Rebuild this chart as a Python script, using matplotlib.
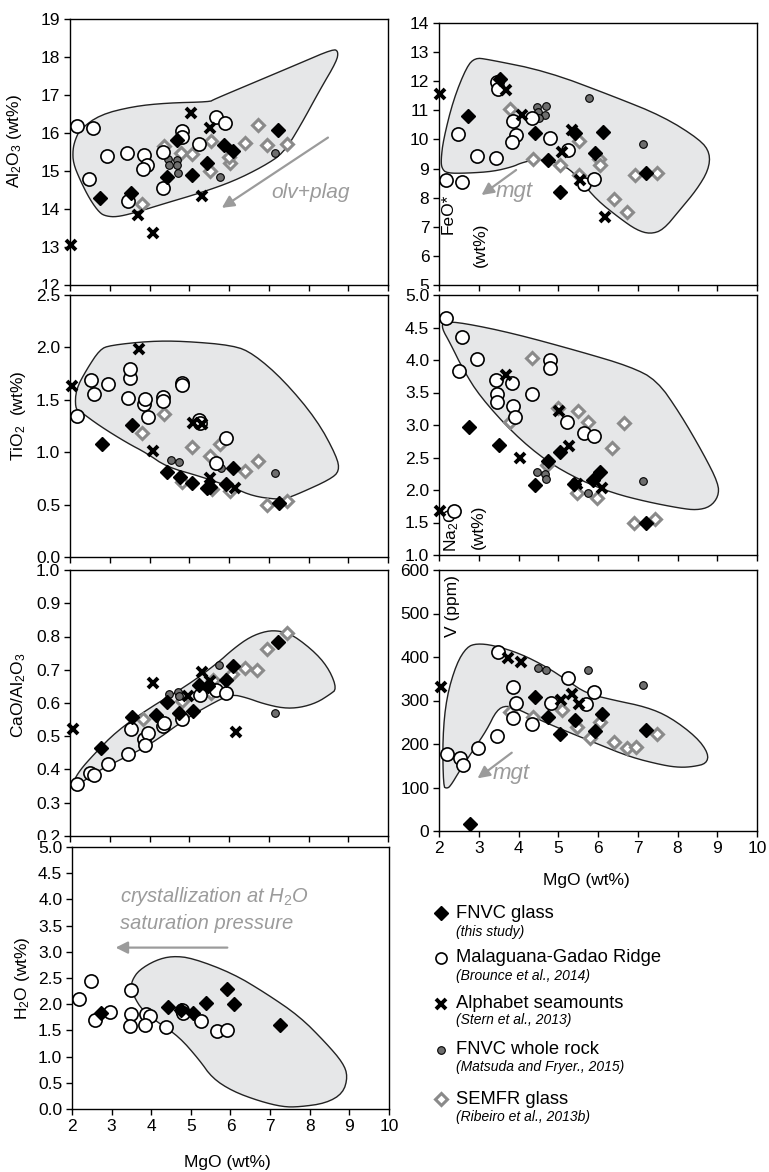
import matplotlib
matplotlib.use('Agg')
import matplotlib.pyplot as plt
from matplotlib.patches import Polygon
from matplotlib.transforms import Bbox, TransformedBbox
import numpy as np

plt.rcParams['font.family'] = 'Liberation Sans'
plt.rcParams['mathtext.fontset'] = 'custom'
plt.rcParams['mathtext.rm'] = 'Liberation Sans'
plt.rcParams['mathtext.it'] = 'Liberation Sans:italic'

# ---- data: (MgO, value) pairs ----
al_env = [(2.07, 15.56), (2.13, 15.82), (2.25, 16.09), (2.75, 16.48), (3.59, 16.70), (4.43, 16.79),
          (5.52, 16.82), (5.61, 16.88), (6.61, 17.32), (7.79, 17.84), (8.62, 18.21), (8.75, 18.15),
          (8.71, 17.89), (8.29, 17.14), (7.79, 16.18), (7.37, 15.47), (6.86, 15.12), (6.11, 14.73),
          (5.27, 14.42), (4.43, 14.16), (3.59, 13.89), (3.17, 13.79), (2.92, 13.81), (2.75, 13.89),
          (2.50, 14.25), (2.25, 14.77), (2.08, 15.21)]
al_fnvc = [(2.75, 14.30), (3.53, 14.42), (4.43, 14.83), (4.70, 15.82), (5.06, 14.89), (5.44, 15.21),
           (5.87, 15.69), (6.11, 15.52), (7.24, 16.07)]
al_mgr = [(2.17, 16.19), (2.59, 16.13), (2.49, 14.79), (2.94, 15.39), (3.44, 15.47), (3.47, 14.20),
          (3.86, 15.43), (3.93, 15.17), (3.84, 15.05), (4.33, 15.49), (4.33, 14.55), (4.81, 16.04),
          (4.83, 15.90), (5.25, 15.72), (5.67, 16.42), (5.91, 16.26)]
al_alpha = [(2.03, 13.04), (3.70, 13.85), (4.08, 13.37), (5.04, 16.53), (5.51, 16.13), (5.31, 14.33)]
al_wr = [(4.47, 15.32), (4.49, 15.17), (4.68, 15.30), (4.70, 15.17), (4.71, 14.95), (5.77, 14.84),
         (7.16, 15.47)]
al_semfr = [(3.80, 14.14), (4.36, 15.65), (4.79, 15.47), (5.06, 15.45), (5.52, 15.00), (5.54, 15.80),
            (6.03, 15.22), (6.00, 15.36), (6.40, 15.75), (6.72, 16.22), (6.95, 15.69), (7.47, 15.72)]

fe_env = [(2.05, 9.30), (2.11, 9.99), (2.36, 11.36), (2.70, 12.51), (2.91, 12.80), (3.20, 12.76),
          (4.71, 12.34), (6.39, 11.48), (7.64, 10.79), (8.57, 9.99), (8.82, 9.53), (8.78, 8.95),
          (8.48, 8.27), (8.06, 7.58), (7.64, 6.89), (7.31, 6.75), (6.97, 6.89), (6.55, 7.29),
          (5.97, 7.92), (5.55, 8.61), (5.21, 9.07), (4.71, 9.30), (4.37, 9.30), (4.04, 9.18),
          (3.87, 9.07), (3.37, 8.90), (2.70, 8.84), (2.19, 8.84), (2.07, 9.01)]
fe_fnvc = [(2.74, 10.82), (3.53, 12.08), (4.41, 10.22), (4.75, 9.28), (5.04, 8.21), (5.42, 10.22),
           (5.92, 9.55), (6.12, 10.25), (7.22, 8.84)]
fe_mgr = [(2.17, 8.61), (2.57, 8.55), (2.49, 10.18), (2.95, 9.44), (3.43, 9.36), (3.47, 11.96),
          (3.49, 11.73), (3.85, 10.62), (3.94, 10.16), (3.84, 9.91), (4.33, 10.73), (4.79, 10.04),
          (5.25, 9.64), (5.65, 8.46), (5.90, 8.63)]
fe_alpha = [(2.03, 11.56), (3.69, 11.71), (4.10, 10.85), (5.09, 9.58), (5.34, 10.33), (5.55, 8.61),
            (6.18, 7.35)]
fe_wr = [(4.46, 11.11), (4.68, 11.16), (4.48, 10.93), (4.67, 10.85), (4.51, 10.73), (5.77, 11.42),
         (7.14, 9.85)]
fe_semfr = [(3.79, 11.04), (4.37, 9.32), (5.04, 9.13), (5.51, 9.93), (5.53, 8.78), (6.03, 9.32),
            (6.05, 9.13), (6.39, 7.95), (6.72, 7.50), (6.93, 8.78), (7.48, 8.84)]

ti_env = [(2.13, 1.42), (2.15, 1.60), (2.42, 1.79), (2.75, 1.98), (3.01, 2.02), (4.01, 2.06),
          (4.85, 2.06), (6.11, 2.02), (6.61, 1.94), (7.37, 1.69), (8.21, 1.31), (8.71, 0.96),
          (8.78, 0.82), (8.54, 0.74), (7.79, 0.61), (7.45, 0.56), (7.20, 0.55), (6.61, 0.58),
          (6.11, 0.66), (5.27, 0.77), (4.43, 0.86), (3.93, 0.99), (3.43, 1.09), (2.75, 1.25),
          (2.25, 1.39)]
ti_fnvc = [(2.80, 1.08), (3.55, 1.26), (4.43, 0.81), (4.77, 0.76), (5.06, 0.71), (5.44, 0.66),
           (5.52, 0.67), (5.92, 0.70), (6.11, 0.85), (7.27, 0.52)]
ti_mgr = [(2.18, 1.35), (2.52, 1.69), (2.60, 1.56), (2.96, 1.65), (3.45, 1.52), (3.51, 1.71),
          (3.51, 1.79), (3.86, 1.46), (3.89, 1.51), (3.95, 1.34), (4.35, 1.53), (4.33, 1.49),
          (4.81, 1.66), (4.81, 1.64), (5.25, 1.31), (5.27, 1.28), (5.92, 1.14), (5.67, 0.90)]
ti_alpha = [(2.06, 1.63), (3.74, 1.98), (4.10, 1.01), (5.09, 1.28), (5.31, 1.27), (5.52, 0.75),
            (6.15, 0.66)]
ti_wr = [(4.53, 0.93), (4.74, 0.91), (5.79, 0.85), (7.16, 0.80)]
ti_semfr = [(3.82, 1.18), (4.36, 1.36), (5.06, 1.05), (5.52, 0.96), (5.77, 1.08), (4.83, 0.72),
            (5.56, 0.65), (6.03, 0.63), (6.40, 0.82), (6.72, 0.92), (6.95, 0.50), (7.47, 0.53)]

na_env = [(2.07, 4.49), (2.11, 4.59), (2.61, 4.57), (3.87, 4.41), (5.55, 4.13), (6.81, 3.90),
          (7.48, 3.69), (8.06, 3.18), (8.65, 2.56), (9.03, 2.10), (9.03, 1.90), (8.82, 1.74),
          (8.48, 1.69), (8.06, 1.72), (7.22, 1.82), (6.39, 1.95), (5.55, 2.15), (4.71, 2.44),
          (3.87, 2.87), (3.03, 3.44), (2.61, 3.85), (2.28, 4.26)]
na_fnvc = [(2.76, 2.97), (3.52, 2.69), (4.42, 2.07), (4.73, 2.44), (5.04, 2.58), (5.40, 2.10),
           (5.88, 2.15), (6.05, 2.27), (7.22, 1.50)]
na_mgr = [(2.17, 4.64), (2.57, 4.35), (2.50, 3.83), (2.95, 4.02), (3.43, 3.69), (3.47, 3.48),
          (3.45, 3.36), (3.83, 3.64), (3.87, 3.29), (3.91, 3.13), (4.33, 3.48), (4.79, 4.00),
          (4.78, 3.87), (5.23, 3.04), (5.65, 2.87), (5.90, 2.83), (2.38, 1.68)]
na_alpha = [(2.03, 1.67), (3.69, 3.77), (4.05, 2.49), (5.03, 3.21), (5.28, 2.68), (5.46, 2.10),
            (6.09, 2.03)]
na_wr = [(4.47, 2.27), (4.67, 2.25), (4.68, 2.17), (5.76, 1.96), (7.14, 2.14)]
na_semfr = [(3.79, 3.04), (4.33, 4.03), (5.00, 3.26), (5.49, 3.21), (5.76, 3.05), (6.36, 2.65),
            (6.65, 3.03), (5.46, 1.95), (5.97, 1.87), (6.91, 1.50), (7.43, 1.56), (4.71, 2.38)]

ca_env = [(2.08, 0.363), (2.25, 0.398), (2.59, 0.444), (3.17, 0.515), (4.01, 0.586), (4.94, 0.652),
          (5.69, 0.718), (6.11, 0.763), (6.53, 0.799), (6.95, 0.817), (7.28, 0.817), (7.62, 0.804),
          (8.21, 0.748), (8.54, 0.697), (8.71, 0.642), (8.54, 0.626), (8.21, 0.601), (7.79, 0.586),
          (7.37, 0.584), (6.86, 0.598), (6.44, 0.616), (6.07, 0.626), (5.69, 0.606), (4.94, 0.555),
          (4.01, 0.474), (3.17, 0.424), (2.75, 0.398), (2.42, 0.373), (2.25, 0.355), (2.13, 0.348)]
ca_fnvc = [(2.77, 0.464), (3.57, 0.558), (4.16, 0.565), (4.43, 0.604), (4.75, 0.571), (5.09, 0.576),
           (5.25, 0.654), (5.46, 0.652), (5.92, 0.669), (6.11, 0.710), (7.24, 0.783)]
ca_mgr = [(2.18, 0.356), (2.50, 0.390), (2.61, 0.383), (2.96, 0.416), (3.47, 0.446), (3.53, 0.523),
          (3.86, 0.492), (3.97, 0.510), (3.89, 0.474), (4.35, 0.532), (4.36, 0.540), (4.81, 0.552),
          (5.27, 0.624), (5.67, 0.638), (5.92, 0.631)]
ca_alpha = [(2.08, 0.522), (4.10, 0.659), (5.33, 0.694), (5.52, 0.667), (6.17, 0.512), (4.98, 0.620)]
ca_wr = [(4.49, 0.628), (4.71, 0.634), (4.73, 0.620), (5.75, 0.715), (7.16, 0.571)]
ca_semfr = [(3.84, 0.553), (4.83, 0.606), (5.54, 0.631), (5.60, 0.670), (6.07, 0.687), (6.40, 0.704),
            (6.70, 0.700), (6.95, 0.761), (7.47, 0.812)]

v_env = [(2.11, 102), (2.09, 215), (2.19, 308), (2.44, 385), (2.70, 423), (2.95, 431), (3.37, 427),
         (4.04, 408), (4.71, 377), (5.21, 347), (5.71, 316), (6.39, 301), (7.22, 285), (7.81, 262),
         (8.48, 216), (8.78, 178), (8.73, 155), (8.40, 148), (8.06, 146), (7.64, 151), (6.81, 170),
         (5.97, 201), (5.13, 232), (4.54, 255), (4.04, 278), (3.70, 289), (3.45, 278), (3.20, 232),
         (2.86, 186), (2.53, 140), (2.28, 102), (2.19, 98)]
v_fnvc = [(2.78, 17), (4.42, 308), (4.75, 262), (5.04, 224), (5.42, 256), (5.92, 230), (6.09, 268),
          (7.22, 232)]
v_mgr = [(2.19, 176), (2.53, 167), (2.60, 151), (2.97, 190), (3.45, 219), (3.49, 412), (3.87, 330),
         (3.93, 295), (3.85, 259), (4.33, 247), (4.81, 295), (5.25, 352), (5.69, 293), (5.91, 320)]
v_alpha = [(2.04, 331), (3.73, 397), (4.06, 389), (5.07, 301), (5.34, 316), (5.53, 293)]
v_wr = [(4.50, 375), (4.69, 371), (5.76, 370), (7.14, 335)]
v_semfr = [(3.79, 274), (4.37, 262), (5.09, 278), (5.48, 239), (5.80, 213), (6.05, 251), (6.39, 205),
           (6.72, 190), (6.96, 193), (7.48, 224)]

h_env = [(3.52, 2.46), (3.69, 2.65), (4.11, 2.84), (4.53, 2.92), (5.04, 2.88), (6.05, 2.59),
         (6.89, 2.21), (7.74, 1.77), (8.41, 1.26), (8.84, 0.88), (8.96, 0.62), (8.84, 0.30),
         (8.41, 0.11), (7.74, 0.04), (7.32, 0.04), (6.73, 0.15), (6.05, 0.34), (5.54, 0.59),
         (5.21, 0.94), (4.70, 1.38), (4.19, 1.64), (3.77, 1.89), (3.56, 2.15), (3.50, 2.34)]
h_fnvc = [(2.73, 1.83), (4.42, 1.94), (4.74, 1.89), (5.05, 1.83), (5.39, 2.02), (5.91, 2.29),
          (6.08, 2.00), (7.26, 1.61)]
h_mgr = [(2.17, 2.10), (2.49, 2.44), (2.57, 1.70), (2.97, 1.86), (3.49, 2.27), (3.48, 1.81),
         (3.46, 1.59), (3.88, 1.82), (3.97, 1.77), (3.83, 1.61), (4.36, 1.57), (4.78, 1.89),
         (4.81, 1.84), (5.25, 1.67), (5.65, 1.49), (5.91, 1.51)]

# ---- styles ----
GRAY_TXT = '#9b9b9b'
STY = {
    'semfr': dict(marker='D', ms=6.2, mfc='white', mec='#8a8a8a', mew=2.2, zorder=3),
    'wr': dict(marker='o', ms=5.5, mfc='#6e6e6e', mec='black', mew=0.8, zorder=4),
    'mgr': dict(marker='o', ms=9.5, mfc='white', mec='black', mew=1.2, zorder=5),
    'fnvc': dict(marker='D', ms=6.8, mfc='black', mec='black', mew=1, zorder=6),
    'alpha': dict(marker='x', ms=7.5, color='black', mew=2.8, zorder=7),
}


def rounded(outline, n=2):
    # corner-cutting so the field outline is drawn as a smooth curve
    p = np.asarray(outline, float)
    for _ in range(n):
        q = np.roll(p, -1, axis=0)
        p = np.column_stack([0.75 * p + 0.25 * q, 0.25 * p + 0.75 * q]).reshape(-1, 2)
    return p


def pts(ax, data, key):
    if data is None:
        return
    xs, ys = zip(*data)
    ax.plot(xs, ys, ls='none', clip_on=False, **STY[key])


def panel(ax, env, semfr, wr, mgr, fnvc, alpha, ylim, yticks, fmt, xlabels=False):
    ax.add_patch(Polygon(rounded(env), closed=True, fc='#e6e7e8', ec='#222222', lw=1.0, zorder=1))
    pts(ax, semfr, 'semfr')
    pts(ax, wr, 'wr')
    pts(ax, mgr, 'mgr')
    pts(ax, fnvc, 'fnvc')
    pts(ax, alpha, 'alpha')
    ax.set_xlim(2, 10)
    ax.set_ylim(*ylim)
    ax.set_xticks(range(2, 11))
    ax.set_yticks(yticks)
    ax.set_yticklabels([fmt.format(v) for v in yticks])
    ax.tick_params(direction='out', length=4, width=1, labelsize=12.5, pad=3,
                   labelbottom=xlabels)
    for s in ax.spines.values():
        s.set_linewidth(1.0)


def arrow(ax, start, end):
    ax.annotate('', xy=end, xytext=start,
                arrowprops=dict(arrowstyle='-|>', color='#9b9b9b', lw=1.6,
                                mutation_scale=18, shrinkA=0, shrinkB=0), zorder=8)


W, H = 769, 1172
fig = plt.figure(figsize=(W / 100, H / 100), dpi=100)


def box(x0, x1, y0, y1):
    return fig.add_axes([x0 / W, 1 - y1 / H, (x1 - x0) / W, (y1 - y0) / H])


def clip_bottom_label(ax, ypix):
    # the lowest tick label is partly hidden by the panel below
    lab = ax.get_yticklabels()[0]
    lab.set_clip_box(TransformedBbox(Bbox([[0, 1 - ypix / H], [1, 1]]), fig.transFigure))
    lab.set_clip_on(True)


ax1 = box(70, 388, 19, 285)
ax2 = box(70, 388, 295, 557)
ax3 = box(70, 388, 570, 836)
ax4 = box(72, 389, 847, 1109)
bx1 = box(439, 757, 23, 285)
bx2 = box(439, 757, 295, 555)
bx3 = box(439, 757, 570, 831)

panel(ax1, al_env, al_semfr, al_wr, al_mgr, al_fnvc, al_alpha, (12, 19), list(range(12, 20)), '{:.0f}')
ax1.set_ylabel('Al$_2$O$_3$ (wt%)', fontsize=12.5)
ax1.yaxis.set_label_coords(-0.145, 0.54)
arrow(ax1, (8.49, 15.88), (5.82, 14.03))
ax1.text(8.04, 14.43, 'olv+plag', color=GRAY_TXT, fontsize=15, style='italic', ha='center', va='center')
clip_bottom_label(ax1, 289)

panel(ax2, ti_env, ti_semfr, ti_wr, ti_mgr, ti_fnvc, ti_alpha, (0, 2.5), list(np.arange(0, 2.51, 0.5)), '{:.1f}')
ax2.set_ylabel('TiO$_2$  (wt%)', fontsize=12.5)
ax2.yaxis.set_label_coords(-0.132, 0.54)

panel(ax3, ca_env, ca_semfr, ca_wr, ca_mgr, ca_fnvc, ca_alpha, (0.2, 1.0), list(np.arange(0.2, 1.01, 0.1)), '{:.1f}')
ax3.set_ylabel('CaO/Al$_2$O$_3$', fontsize=12.5)
ax3.yaxis.set_label_coords(-0.132, 0.53)
clip_bottom_label(ax3, 840)

panel(ax4, h_env, None, None, h_mgr, h_fnvc, None, (0, 5), list(np.arange(0, 5.01, 0.5)), '{:.1f}', xlabels=True)
ax4.set_ylabel('H$_2$O (wt%)', fontsize=12.5)
ax4.yaxis.set_label_coords(-0.126, 0.5)
ax4.set_xlabel('MgO (wt%)', fontsize=12.5)
ax4.xaxis.set_label_coords(0.49, -0.176)
arrow(ax4, (5.92, 3.08), (3.10, 3.08))
ax4.text(3.22, 4.05, 'crystallization at $\\mathit{H_2O}$', color=GRAY_TXT, fontsize=14.5,
         style='italic', ha='left', va='center')
ax4.text(3.22, 3.54, 'saturation pressure', color=GRAY_TXT, fontsize=14.5,
         style='italic', ha='left', va='center')

panel(bx1, fe_env, fe_semfr, fe_wr, fe_mgr, fe_fnvc, fe_alpha, (5, 14), list(range(5, 15)), '{:.0f}')
bx1.text(0.028, 0.271, 'FeO*', transform=bx1.transAxes, rotation=90, fontsize=12.5, ha='center', va='center')
bx1.text(0.129, 0.153, '(wt%)', transform=bx1.transAxes, rotation=90, fontsize=12.5, ha='center', va='center')
arrow(bx1, (3.94, 8.95), (3.07, 8.09))
bx1.text(3.42, 8.2, 'mgt', color=GRAY_TXT, fontsize=16, style='italic', ha='left', va='center')
clip_bottom_label(bx1, 289)

panel(bx2, na_env, na_semfr, na_wr, na_mgr, na_fnvc, na_alpha, (1, 5), list(np.arange(1, 5.01, 0.5)), '{:.1f}')
bx2.text(0.041, 0.096, 'Na$_2$O', transform=bx2.transAxes, rotation=90, fontsize=12.5, ha='center', va='center')
bx2.text(0.123, 0.108, '(wt%)', transform=bx2.transAxes, rotation=90, fontsize=12.5, ha='center', va='center')

panel(bx3, v_env, v_semfr, v_wr, v_mgr, v_fnvc, v_alpha, (0, 600), list(range(0, 601, 100)), '{:.0f}', xlabels=True)
bx3.text(0.044, 0.862, 'V (ppm)', transform=bx3.transAxes, rotation=90, fontsize=12.5, ha='center', va='center')
bx3.set_xlabel('MgO (wt%)', fontsize=12.5)
bx3.xaxis.set_label_coords(0.465, -0.161)
arrow(bx3, (3.83, 180), (2.97, 121))
bx3.text(3.36, 132, 'mgt', color=GRAY_TXT, fontsize=16, style='italic', ha='left', va='center')

# ---- legend (figure pixel space) ----
leg = fig.add_axes([0, 0, 1, 1], zorder=-1)
leg.set_xlim(0, W)
leg.set_ylim(H, 0)
leg.axis('off')
legend_rows = [
    ('fnvc', 'FNVC glass', '(this study)', 913, 932),
    ('mgr', 'Malaguana-Gadao Ridge', '(Brounce et al., 2014)', 958, 976),
    ('alpha', 'Alphabet seamounts', '(Stern et al., 2013)', 1004, 1020),
    ('wr', 'FNVC whole rock', '(Matsuda and Fryer., 2015)', 1050, 1067),
    ('semfr', 'SEMFR glass', '(Ribeiro et al., 2013b)', 1099, 1117),
]
for key, name, ref, ym, yr in legend_rows:
    sty = dict(STY[key])
    if key == 'mgr':
        sty['ms'] = 8
    leg.plot([441], [ym], ls='none', **sty)
    leg.text(456, ym, name, fontsize=13.2, va='center', ha='left')
    leg.text(456, yr, ref, fontsize=10, style='italic', va='center', ha='left')

fig.savefig('out.png', dpi=100)
